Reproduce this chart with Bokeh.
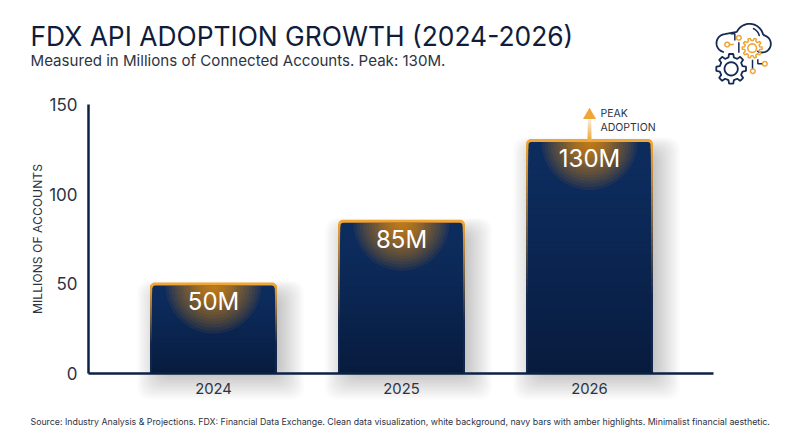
import math
from bokeh.core.properties import value
from bokeh.embed import file_html
from bokeh.resources import INLINE
from bokeh.plotting import figure
from bokeh.models import Label, PolyAnnotation, Range1d, FixedTicker

years = [2024, 2025, 2026]
year_labels = ["2024", "2025", "2026"]
accounts = [50, 85, 130]
value_labels = ["50M", "85M", "130M"]
y_ticks = [0, 50, 100, 150]
peak_year = 2026
peak_value = 130

FONT = "Inter"
NAVY = "#0c2044"
AMBER = "#f0a534"
TEXT = "#2c3444"

W, H = 800, 447
PX = 269 / 150.0      # pixels per y unit
STEP = 188.0          # pixels per year
X0 = 213.0            # canvas x of first year
Y0 = 373.0            # canvas y of zero
AX_L = 88.0           # canvas x of y axis
AX_R = 713.0          # canvas x where x axis ends
RIM = 1.3 / PX        # the amber rim sits just outside the value


def lerp(a, b, t):
    ca = [int(a[i:i + 2], 16) for i in (1, 3, 5)]
    cb = [int(b[i:i + 2], 16) for i in (1, 3, 5)]
    return "#%02x%02x%02x" % tuple(round(x + (y - x) * t) for x, y in zip(ca, cb))


x_start = years[0] - X0 / STEP
p = figure(width=W, height=H, output_backend="svg", toolbar_location=None,
           x_range=Range1d(x_start, x_start + W / STEP),
           y_range=Range1d(-(H - Y0) / PX, Y0 / PX),
           min_border=0, background_fill_color="white", border_fill_color="white")
p.outline_line_color = None
p.grid.visible = False

# soft shadow
for i in range(20):
    s = 20 - i * 1.4
    p.vbar(x=[y + 7 / STEP for y in years], width=(127 + 2 * s) / STEP,
           bottom=-(6 + s) / PX, top=[v - (9 - s * 0.6) / PX for v in accounts],
           fill_color="#20283a", fill_alpha=0.014, line_color=None, border_radius=12)

# amber rim fading down into navy, then navy body (painted top to bottom)
N = 36
for k in range(N):
    t = k / (N - 1)
    col = lerp(AMBER, "#10264c", min(1, t * 1.5))
    p.vbar(x=years, width=127 / STEP, bottom=0, top=[(v + RIM) * (1 - t) for v in accounts],
           fill_color=col, line_color=None, border_radius=(5, 5, 0, 0) if k == 0 else 0)
for k in range(N):
    t = k / (N - 1)
    col = lerp("#0d2c5e", "#071b3c", t ** 1.3)
    p.vbar(x=years, width=(127 - 5) / STEP, bottom=0,
           top=[(v + RIM - 3 / PX) * (1 - t) for v in accounts],
           fill_color=col, line_color=None, border_radius=(3, 3, 0, 0) if k == 0 else 0)

# amber glow under each bar's top
for r in list(range(3, 24, 2)) + list(range(24, 50, 3)):
    p.wedge(x=years, y=[v + RIM - 3 / PX for v in accounts], radius=r, radius_units="screen",
            start_angle=math.pi, end_angle=2 * math.pi,
            fill_color="#f59a12", fill_alpha=0.075, line_color=None)

# value labels
p.text(x=years, y=accounts, text=value_labels, text_color="white", text_font=value(FONT),
       text_font_size="24px", text_align="center", text_baseline="middle", y_offset=18)

# peak arrow
for k in range(14):
    t = k / 13
    p.vbar(x=[peak_year], width=3.2 / STEP, bottom=peak_value,
           top=peak_value + (21 * (1 - t) + 1) / PX,
           fill_color=lerp(AMBER, "#fbeedb", 1 - t), line_color=None)
p.scatter(x=[peak_year], y=[peak_value + 25 / PX], marker="triangle", size=13,
          fill_color=AMBER, line_color=None)
p.text(x=[peak_year], y=[peak_value], text=["PEAK\nADOPTION"], text_color=TEXT,
       text_font=value(FONT), text_font_size="10.5px", x_offset=11, y_offset=-6,
       text_baseline="bottom", text_line_height=1.1)

# axes
ax = p.xaxis[0]
ax.fixed_location = 0
ax.ticker = FixedTicker(ticks=years)
ax.major_label_overrides = dict(zip(years, year_labels))
ax.bounds = (x_start + AX_L / STEP, x_start + AX_R / STEP)
ax.axis_line_color = NAVY
ax.axis_line_width = 2.5
ax.major_tick_line_color = None
ax.minor_tick_line_color = None
ax.major_label_text_font = FONT
ax.major_label_text_font_size = "14.8px"
ax.major_label_text_color = TEXT
ax.major_label_standoff = 3
ay = p.yaxis[0]
ay.fixed_location = x_start + AX_L / STEP
ay.ticker = FixedTicker(ticks=y_ticks)
ay.bounds = (0, 150)
ay.axis_line_color = NAVY
ay.axis_line_width = 2.5
ay.major_tick_line_color = None
ay.minor_tick_line_color = None
ay.major_label_text_font = FONT
ay.major_label_text_font_size = "17px"
ay.major_label_text_color = TEXT
ay.major_label_standoff = 5
ay.axis_label = "MILLIONS OF ACCOUNTS"
ay.axis_label_text_font = FONT
ay.axis_label_text_font_size = "12.2px"
ay.axis_label_text_font_style = "normal"
ay.axis_label_text_color = TEXT
ay.axis_label_standoff = 1


def txt(s, x, y, size, color):
    p.add_layout(Label(x=x, y=H - y, x_units="screen", y_units="screen", text=s,
                       text_font=FONT, text_font_size=size, text_color=color,
                       text_baseline="alphabetic"))


txt("FDX API ADOPTION GROWTH (2024-2026)", 30, 35, "26.4px", "#101c3c")
txt("Measured in Millions of Connected Accounts. Peak: 130M.", 30, 60, "15.1px", TEXT)
txt("Source: Industry Analysis & Projections. FDX: Financial Data Exchange. Clean data visualization, "
    "white background, navy bars with amber highlights. Minimalist financial aesthetic.",
    30, 421, "8.8px", TEXT)


# logo: coordinates in reference-zoom space (3x around 680,0)
def Z(pts):
    return [680 + a / 3 for a, _ in pts], [b / 3 for _, b in pts]


def stroke(pts, color, w=1.5, closed=False):
    if not closed:
        pts = pts + pts[::-1]
    xs, ys = Z(pts)
    p.add_layout(PolyAnnotation(xs=xs, ys=ys, xs_units="canvas", ys_units="canvas",
                                fill_alpha=0, line_color=color, line_width=w, line_alpha=1))


def arc(cx, cy, r, a0, a1, n=24):
    return [(cx + r * math.cos(math.radians(a0 + (a1 - a0) * i / n)),
             cy + r * math.sin(math.radians(a0 + (a1 - a0) * i / n))) for i in range(n + 1)]


def gear(cx, cy, ro, ri, teeth):
    out = []
    for i in range(teeth):
        a = 360 * i / teeth
        d = 360 / teeth
        for off, r in ((-0.30, ri), (-0.18, ro), (0.18, ro), (0.30, ri)):
            ang = math.radians(a + off * d)
            out.append((cx + r * math.cos(ang), cy + r * math.sin(ang)))
    return out


LN = "#142a55"
LA = "#eda537"
stroke(arc(135, 128, 27, 100, 265) + arc(207, 112, 42, 205, 345) + arc(245, 130, 26, -75, 125), LN, 1.8)
stroke(arc(207, 112, 30, -70, -10, 8), LN, 1.5)
stroke(gear(215, 143, 30, 23, 10), LA, 1.5, True)
stroke(arc(215, 143, 13, 0, 360), LA, 1.5, True)
stroke(gear(152, 205, 45, 35, 8), LN, 1.8, True)
stroke(arc(152, 205, 20, 0, 360), LN, 1.8, True)
for cx, cy in [(175, 112), (140, 132), (253, 190), (217, 212)]:
    stroke(arc(cx, cy, 7, 0, 360, 14), LA, 1.5, True)
stroke([(175, 125), (175, 157)], LN)
stroke([(150, 100), (163, 100), (163, 120)], LN)
stroke([(148, 132), (160, 132)], LA)
stroke([(216, 178), (216, 204)], LN)
stroke([(232, 176), (232, 190), (245, 190)], LN)

open("out.html", "w").write(file_html(p, INLINE))
